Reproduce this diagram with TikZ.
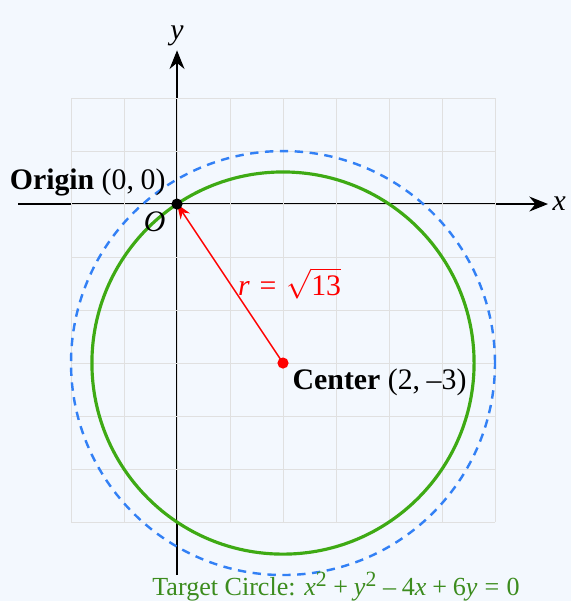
\documentclass[tikz,border=0pt]{standalone}
\usepackage{amsmath,amssymb}
\usepackage{mathptmx}
\usepackage[no-math]{fontspec}
\setmainfont{Liberation Serif}
\usepackage[italic]{mathastext}
\usepackage{tikz}
\usetikzlibrary{positioning,calc}
\usetikzlibrary{arrows.meta}
\definecolor{CircGreen}{RGB}{62,170,20}
\definecolor{TextGreen}{RGB}{60,140,30}
\definecolor{DashBlue}{RGB}{50,128,245}
\definecolor{PaleBlue}{RGB}{243,248,254}
\newcommand{\wideops}{\medmuskip=6mu plus 2mu\relax\thickmuskip=6mu plus 3mu\relax}
\newcommand{\titleops}{\medmuskip=4mu plus 2mu\relax\thickmuskip=5mu plus 3mu\relax}
\tikzset{
  axis/.style={draw=black,line width=1pt,-{Stealth[length=10pt,width=8pt]}},
  gridline/.style={draw=black!12,line width=0.5pt},
  target/.style={draw=CircGreen,line width=1.7pt},
  guess/.style={draw=DashBlue,line width=1.3pt,dash pattern=on 4.5pt off 3.5pt},
  radius/.style={draw=red,line width=0.8pt,-{Stealth[length=8pt,width=6pt]}},
}
\tikzset{dot/.style={circle,fill=black,inner sep=0pt,minimum size=6pt}, lab/.style={font=\fontsize{16}{19}\selectfont\wideops,inner sep=2pt}}

\begin{document}
\begin{tikzpicture}[x=1cm,y=1cm]
\fill[PaleBlue] (-3.34,-7.49) rectangle (7.43,3.85);
\useasboundingbox (-3.34,-7.49) rectangle (7.43,3.85);
\coordinate (O) at (0,0);
\coordinate (C) at (2,-3);
\coordinate (xa) at (-3,0);
\coordinate (xb) at (7,0);
\coordinate (ya) at (0,-7);
\coordinate (yb) at (0,2.9);
% axes
\draw[axis] (xa)--(xb) node[lab,right] (xl) {$x$};
\draw[axis] (ya)--(yb) node[lab,above] (yl) {$y$};
% grid
\draw[gridline] (-2,-6) grid (6,2);
% circles
\draw[guess] (C) circle (4);
\draw[target] (C) circle ({sqrt(13)});
% radius
\draw[radius] (C)--(O) node[lab,midway,right,text=red,xshift=2pt] (rl) {$r=\sqrt{13}$};
\node[dot] (o) at (O) {};
\node[dot,fill=red] (c) at (C) {};
\node[lab,above left=2pt and 4pt of O,anchor=south east] (ol) {\textbf{Origin} $(0,\,0)$};
\node[lab,below left=2pt and 4pt of O] (on) {$O$};
\node[lab,below right=1pt and 3pt of C] (cl) {\textbf{Center} $(2,\,-3)$};
\node[lab,text=TextGreen,font=\fontsize{14}{17}\selectfont\titleops] (tl) at (3.0,-7.22) {Target Circle: $x^2+y^2-4x+6y=0$};
\end{tikzpicture}
\end{document}
